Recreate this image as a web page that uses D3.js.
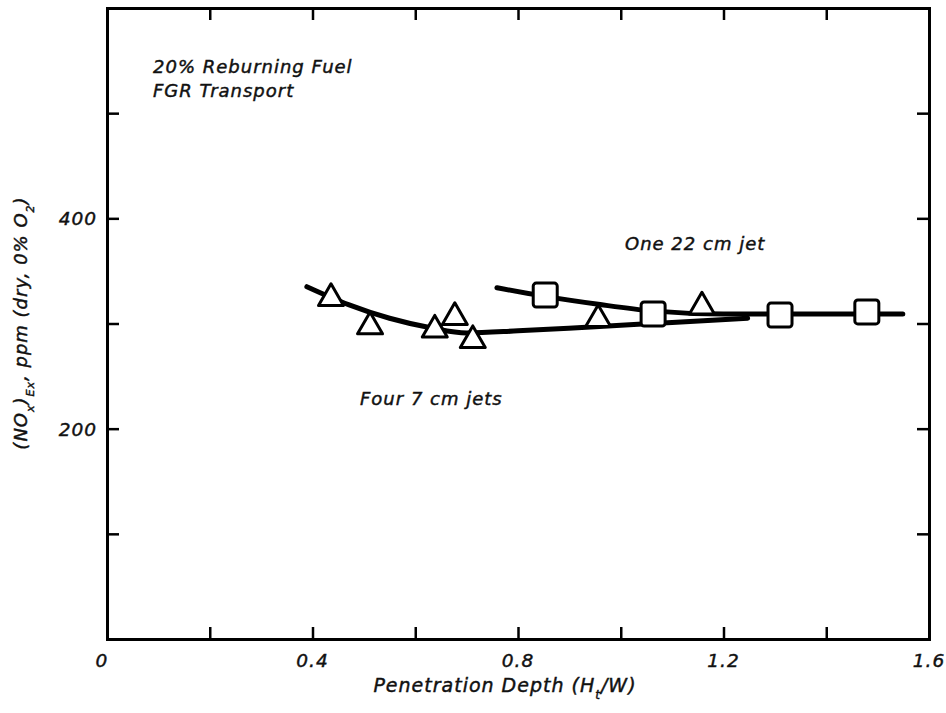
<!DOCTYPE html>
<html>
<head>
<meta charset="utf-8">
<script src="https://cdn.jsdelivr.net/npm/d3@7"></script>
<style>
  body { margin: 0; background: #fff; }
  text { font-family: "DejaVu Sans", "Liberation Sans", sans-serif; font-style: italic; fill: #111; stroke: #111; stroke-width: 0.45px; letter-spacing: 1px; }
</style>
</head>
<body>
<div id="chart"></div>
<script>
const width = 946,
    height = 713,
    margin = { top: 8, right: 17, bottom: 74, left: 107 };

// Valores
const xTicks = [0, 0.2, 0.4, 0.6, 0.8, 1.0, 1.2, 1.4, 1.6],
    xLabels = [0, 0.4, 0.8, 1.2, 1.6],
    yTicks = [0, 100, 200, 300, 400, 500, 600],
    yLabels = [200, 400];

// Triângulos: quatro jatos de 7 cm
const triX = [0.436, 0.512, 0.638, 0.677, 0.712, 0.956, 1.158],
    triY = [324, 297, 294, 306, 284, 304, 316];
// Quadrados: um jato de 22 cm
const sqX = [0.853, 1.063, 1.310, 1.479],
    sqY = [327, 309, 308, 311];

// Curvas desenhadas à mão no original
const triCurveX = [0.389, 0.47, 0.55, 0.63, 0.70, 0.80, 0.95, 1.10, 1.247],
    triCurveY = [335, 318, 305, 296, 291, 293, 297, 301, 305];
const sqCurveX = [0.759, 0.85, 0.96, 1.06, 1.20, 1.35, 1.549],
    sqCurveY = [334, 326, 318, 312, 309, 309, 309];

const x = d3.scaleLinear().domain([0, 1.6]).range([margin.left, width - margin.right]),
    y = d3.scaleLinear().domain([0, 600]).range([height - margin.bottom, margin.top]);

const svg = d3.select("#chart")
    .append("svg")
    .attr("width", width)
    .attr("height", height);

// Eixos com marcas para dentro nos quatro lados
const tick = 12;
const axes = svg.append("g");
axes.append("g")
    .attr("transform", `translate(0,${y(0)})`)
    .call(d3.axisBottom(x).tickValues(xTicks).tickSize(-tick).tickFormat(""));
axes.append("g")
    .attr("transform", `translate(0,${y(600)})`)
    .call(d3.axisTop(x).tickValues(xTicks).tickSize(-tick).tickFormat(""));
axes.append("g")
    .attr("transform", `translate(${x(0)},0)`)
    .call(d3.axisLeft(y).tickValues(yTicks).tickSize(-tick).tickFormat(""));
axes.append("g")
    .attr("transform", `translate(${x(1.6)},0)`)
    .call(d3.axisRight(y).tickValues(yTicks).tickSize(-tick).tickFormat(""));
axes.selectAll(".domain").attr("stroke", "#000").attr("stroke-width", 3);
axes.selectAll(".tick line").attr("stroke", "#000").attr("stroke-width", 2.5);

// Rótulos dos eixos
svg.selectAll(".xlab")
    .data(xLabels)
    .enter()
    .append("text")
    .attr("class", "xlab")
    .attr("x", d => x(d) + (d === 0 ? -5 : 0))
    .attr("y", 667)
    .attr("text-anchor", "middle")
    .style("font-size", "18.5px")
    .text(d => d === 0 ? "0" : d3.format(".1f")(d));

svg.selectAll(".ylab")
    .data(yLabels)
    .enter()
    .append("text")
    .attr("class", "ylab")
    .attr("x", 97)
    .attr("y", d => y(d) + 7)
    .attr("text-anchor", "end")
    .style("font-size", "18.5px")
    .text(d => d);

const xt = svg.append("text")
    .attr("x", 505)
    .attr("y", 692)
    .attr("text-anchor", "middle")
    .style("font-size", "19px");
xt.append("tspan").text("Penetration Depth (H");
xt.append("tspan").attr("baseline-shift", "sub").style("font-size", "12px").text("t");
xt.append("tspan").text("/W)");

const yt = svg.append("text")
    .attr("transform", "translate(27,323) rotate(-90)")
    .attr("text-anchor", "middle")
    .style("font-size", "18px");
yt.append("tspan").text("(NO");
yt.append("tspan").attr("baseline-shift", "sub").style("font-size", "11px").text("x");
yt.append("tspan").text(")");
yt.append("tspan").attr("baseline-shift", "sub").style("font-size", "11px").text("Ex");
yt.append("tspan").text(", ppm (dry, 0% O");
yt.append("tspan").attr("baseline-shift", "sub").style("font-size", "11px").text("2");
yt.append("tspan").text(")");

// Anotações
svg.append("text").attr("x", 153).attr("y", 73).style("font-size", "18px").text("20% Reburning Fuel");
svg.append("text").attr("x", 153).attr("y", 97).style("font-size", "18px").text("FGR Transport");
svg.append("text").attr("x", 625).attr("y", 250).style("font-size", "18px").text("One 22 cm jet");
svg.append("text").attr("x", 360).attr("y", 405).style("font-size", "18px").text("Four 7 cm jets");

// Curvas
const line = d3.line()
    .x(d => x(d[0]))
    .y(d => y(d[1]))
    .curve(d3.curveMonotoneX);

svg.append("path")
    .datum(d3.zip(triCurveX, triCurveY))
    .attr("d", line)
    .attr("fill", "none")
    .attr("stroke", "#000")
    .attr("stroke-width", 5)
    .attr("stroke-linecap", "round");

svg.append("path")
    .datum(d3.zip(sqCurveX, sqCurveY))
    .attr("d", line)
    .attr("fill", "none")
    .attr("stroke", "#000")
    .attr("stroke-width", 5)
    .attr("stroke-linecap", "round");

// Marcadores
const triangle = d3.symbol().type(d3.symbolTriangle).size(270);
svg.selectAll(".tri")
    .data(d3.zip(triX, triY))
    .enter()
    .append("path")
    .attr("class", "tri")
    .attr("transform", d => `translate(${x(d[0])},${y(d[1])})`)
    .attr("d", triangle)
    .attr("fill", "#fff")
    .attr("stroke", "#000")
    .attr("stroke-width", 3)
    .attr("stroke-linejoin", "round");

const sq = 24;
svg.selectAll(".sq")
    .data(d3.zip(sqX, sqY))
    .enter()
    .append("rect")
    .attr("class", "sq")
    .attr("x", d => x(d[0]) - sq / 2)
    .attr("y", d => y(d[1]) - sq / 2)
    .attr("width", sq)
    .attr("height", sq)
    .attr("rx", 3)
    .attr("fill", "#fff")
    .attr("stroke", "#000")
    .attr("stroke-width", 3);
</script>
</body>
</html>
